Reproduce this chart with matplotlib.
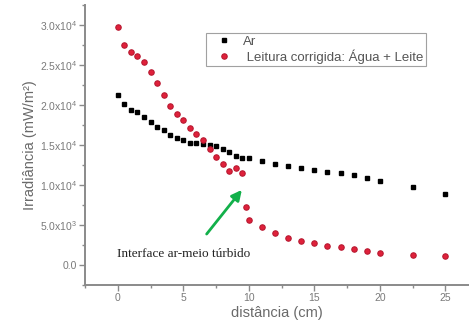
import matplotlib
matplotlib.use("Agg")
import matplotlib.pyplot as plt
from matplotlib.ticker import MultipleLocator, FixedLocator

# Data
x_ar = [0, 0.5, 1, 1.5, 2, 2.5, 3, 3.5, 4, 4.5, 5, 5.5, 6, 6.5, 7, 7.5, 8, 8.5, 9, 9.5,
        10, 11, 12, 13, 14, 15, 16, 17, 18, 19, 20, 22.5, 25]
y_ar = [21200, 20100, 19400, 19100, 18500, 17900, 17250, 16850, 16300, 15900, 15600, 15300,
        15250, 15100, 14950, 14850, 14450, 14150, 13650, 13400, 13350, 13000, 12650, 12380,
        12090, 11840, 11660, 11460, 11250, 10880, 10500, 9750, 8830]

x_lt = [0, 0.5, 1, 1.5, 2, 2.5, 3, 3.5, 4, 4.5, 5, 5.5, 6, 6.5, 7, 7.5, 8, 8.5, 9, 9.5,
        9.75, 10, 11, 12, 13, 14, 15, 16, 17, 18, 19, 20, 22.5, 25]
y_lt = [29750, 27450, 26650, 26100, 25400, 24100, 22700, 21200, 19850, 18900, 18100, 17150,
        16350, 15650, 14550, 13500, 12600, 11750, 12100, 11550, 7250, 5600, 4750, 3950,
        3400, 3000, 2700, 2400, 2200, 1950, 1750, 1550, 1250, 1120]

labels = ["Ar", " Leitura corrigida: Água + Leite"]
y_ticks = [0, 5000, 10000, 15000, 20000, 25000, 30000]
y_ticklabels = ["0.0", r"5.0x10$^3$", r"1.0x10$^4$", r"1.5x10$^4$",
                r"2.0x10$^4$", r"2.5x10$^4$", r"3.0x10$^4$"]
x_ticks = [0, 5, 10, 15, 20, 25]
xlabel = "distância (cm)"
ylabel = "Irradiância (mW/m²)"
annot_text = "Interface ar-meio túrbido"

plt.rcParams['font.family'] = ['Liberation Sans', 'DejaVu Sans']
plt.rcParams['mathtext.fontset'] = 'custom'
plt.rcParams['mathtext.rm'] = 'Liberation Sans'

fig = plt.figure(figsize=(4.69, 3.27), dpi=100)
ax = fig.add_axes([85/469, 42/327, 1 - 85/469, 280/327])

gray = '#8a8a8a'
ax.plot(x_ar, y_ar, linestyle='none', marker='s', markersize=3.3, color='black',
        label=labels[0])
ax.plot(x_lt, y_lt, linestyle='none', marker='o', markersize=3.9, color='#e0203a',
        markeredgecolor='#b81830', markeredgewidth=0.8, label=labels[1])

ax.set_xlim(-2.5, 26.8)
ax.set_ylim(-2500, 32500)
ax.yaxis.set_major_locator(FixedLocator(y_ticks))
ax.set_yticklabels(y_ticklabels)
ax.yaxis.set_minor_locator(MultipleLocator(2500))
ax.xaxis.set_major_locator(FixedLocator(x_ticks))
ax.xaxis.set_minor_locator(MultipleLocator(2.5))

for s in ['top', 'right']:
    ax.spines[s].set_visible(False)
for s in ['left', 'bottom']:
    ax.spines[s].set_color(gray)
    ax.spines[s].set_linewidth(1.4)
ax.tick_params(which='major', direction='out', length=4, width=1, color=gray,
               labelcolor='#7a7a7a', labelsize=7.5, pad=2)
ax.tick_params(which='minor', direction='out', length=2.5, width=1, color=gray)

ax.set_xlabel(xlabel, fontsize=10.5, color='#6a6a6a', labelpad=2)
ax.set_ylabel(ylabel, fontsize=10.5, color='#6a6a6a', labelpad=2)

leg = ax.legend(loc='upper left', bbox_to_anchor=((206-85)/384, (327-33-42)/280),
                fontsize=9.5, frameon=True, fancybox=False, handletextpad=0.3,
                borderpad=0.2, labelspacing=0.1, handlelength=2.3, borderaxespad=0)
leg.get_frame().set_edgecolor(gray)
leg.get_frame().set_linewidth(0.8)
for t in leg.get_texts():
    t.set_color('#555555')

ax.annotate('', xy=(9.6, 9660), xytext=(6.65, 3600),
            arrowprops=dict(arrowstyle='-|>', color='#12b04a', lw=2,
                            mutation_scale=15))
ax.text(-0.05, 1350, annot_text, fontsize=9.5, family='Liberation Serif',
        color='#222222', va='center', ha='left')

fig.savefig('out.png', dpi=100)
